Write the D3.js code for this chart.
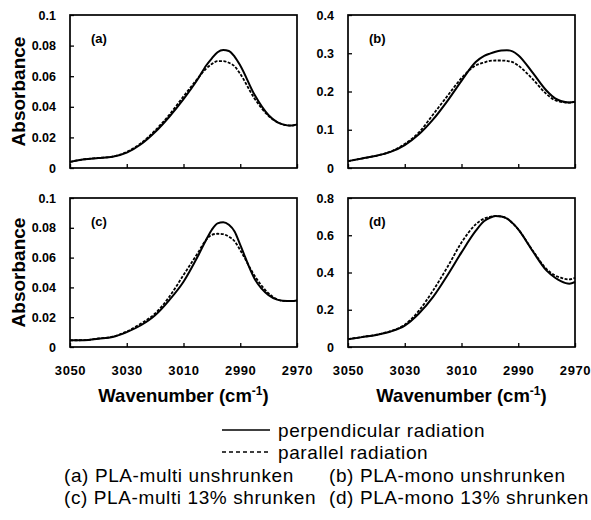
<!DOCTYPE html>
<html><head><meta charset="utf-8">
<script src="https://cdn.jsdelivr.net/npm/d3@7"></script>
<style>
body{margin:0;background:#fff;}
svg{display:block;}
</style></head>
<body>
<svg id="chart" width="591" height="520"></svg>
<script>
// ---- data ----
const wavenumbers = [3050,3045,3040,3035,3030,3025,3020,3015,3010,3005,3002,3000,2998,2996,2994,2992,2990,2985,2980,2977,2975,2972,2970];
const xTicks = [3050,3030,3010,2990,2970];

const perpA = [.0040,.0057,.0065,.0073,.0100,.0155,.0235,.0335,.0450,.0580,.0670,.0717,.0757,.0772,.0765,.0728,.0670,.0480,.0345,.0300,.0285,.0277,.0285];
const paraA = [.0040,.0057,.0066,.0075,.0105,.0162,.0245,.0348,.0468,.0585,.0650,.0680,.0698,.0698,.0688,.0665,.0615,.0455,.0340,.0300,.0285,.0277,.0285];
const perpB = [.018,.025,.032,.042,.060,.088,.127,.175,.228,.277,.293,.299,.304,.307,.308,.305,.295,.250,.202,.182,.175,.171,.173];
const paraB = [.018,.025,.032,.043,.063,.093,.140,.188,.235,.268,.276,.280,.281,.281,.280,.277,.268,.233,.193,.177,.173,.171,.173];
const perpC = [.0045,.0045,.0056,.0067,.0100,.0146,.0213,.0315,.0438,.0607,.0720,.0787,.0830,.0838,.0820,.0775,.0685,.0460,.0348,.0318,.0310,.0308,.0312];
const paraC = [.0045,.0046,.0057,.0069,.0104,.0157,.0225,.0337,.0483,.0630,.0720,.0753,.0760,.0757,.0740,.0710,.0650,.0480,.0360,.0320,.0310,.0308,.0312];
const perpD = [.042,.053,.065,.083,.115,.180,.269,.384,.508,.623,.676,.694,.703,.701,.690,.665,.632,.517,.410,.372,.354,.340,.349];
const paraD = [.042,.054,.066,.085,.120,.195,.304,.428,.561,.658,.690,.699,.703,.701,.690,.665,.632,.520,.418,.384,.372,.363,.372];

const yTicksA = [0,0.02,0.04,0.06,0.08,0.1];
const yTicksB = [0,0.1,0.2,0.3,0.4];
const yTicksC = [0,0.02,0.04,0.06,0.08,0.1];
const yTicksD = [0,0.2,0.4,0.6,0.8];
const yLabelsA = ["0","0.02","0.04","0.06","0.08","0.1"];
const yLabelsB = ["0","0.1","0.2","0.3","0.4"];
const yLabelsD = ["0","0.2","0.4","0.6","0.8"];

const panelLabels = ["(a)","(b)","(c)","(d)"];
const legendSeries = ["perpendicular radiation","parallel radiation"];
const caption = ["(a) PLA-multi unshrunken","(b) PLA-mono unshrunken","(c) PLA-multi 13% shrunken","(d) PLA-mono 13% shrunken"];

// ---- layout ----
const svg = d3.select("#chart");
const FONT = "'Liberation Sans', Arial, sans-serif";

const panels = [
  {x0:70, x1:297, y0:15, y1:168, ymax:0.1, ticks:yTicksA, labels:yLabelsA, perp:perpA, para:paraA, lab:panelLabels[0], ylab:true, xlab:false},
  {x0:348, x1:575, y0:15, y1:168, ymax:0.4, ticks:yTicksB, labels:yLabelsB, perp:perpB, para:paraB, lab:panelLabels[1], ylab:false, xlab:false},
  {x0:70, x1:297, y0:198, y1:347, ymax:0.1, ticks:yTicksC, labels:yLabelsA, perp:perpC, para:paraC, lab:panelLabels[2], ylab:true, xlab:true},
  {x0:348, x1:575, y0:198, y1:347, ymax:0.8, ticks:yTicksD, labels:yLabelsD, perp:perpD, para:paraD, lab:panelLabels[3], ylab:false, xlab:true}
];

panels.forEach(p => {
  const x = d3.scaleLinear().domain([3050,2970]).range([p.x0,p.x1]);
  const y = d3.scaleLinear().domain([0,p.ymax]).range([p.y1,p.y0]);
  const g = svg.append("g");

  // y axis (ticks inward)
  const ya = d3.axisLeft(y).tickValues(p.ticks).tickSizeInner(-4).tickSizeOuter(0)
      .tickPadding(14).tickFormat((d,i)=>p.labels[i]);
  const yg = g.append("g").attr("transform",`translate(${p.x0},0)`).call(ya);
  yg.select(".domain").remove();
  yg.selectAll("line").attr("stroke","#000").attr("stroke-width",1.3);
  yg.selectAll("text").attr("font-family",FONT).attr("font-weight","bold").attr("font-size","12.5px").attr("fill","#000");

  // x axis (ticks inward)
  const xa = d3.axisBottom(x).tickValues(xTicks).tickSizeInner(-4).tickSizeOuter(0)
      .tickPadding(19).tickFormat(d3.format("d"));
  const xg = g.append("g").attr("transform",`translate(0,${p.y1})`).call(xa);
  xg.select(".domain").remove();
  xg.selectAll("line").attr("stroke","#000").attr("stroke-width",1.3);
  xg.selectAll("text").attr("font-family",FONT).attr("font-weight","bold").attr("font-size","13px")
     .attr("letter-spacing","0.6px").attr("fill","#000");
  if(!p.xlab) xg.selectAll("text").remove();

  // frame
  g.append("rect").attr("x",p.x0).attr("y",p.y0).attr("width",p.x1-p.x0).attr("height",p.y1-p.y0)
    .attr("fill","none").attr("stroke","#000").attr("stroke-width",1.7);

  const line = d3.line().x((d,i)=>x(wavenumbers[i])).y(d=>y(d)).curve(d3.curveMonotoneX);
  g.append("path").datum(p.para).attr("d",line).attr("fill","none").attr("stroke","#000")
    .attr("stroke-width",1.8).attr("stroke-dasharray","3,1.5");
  g.append("path").datum(p.perp).attr("d",line).attr("fill","none").attr("stroke","#000")
    .attr("stroke-width",2);

  g.append("text").attr("x",p.x0+21).attr("y",p.y0+28).text(p.lab)
    .attr("font-family",FONT).attr("font-weight","bold").attr("font-size","13px");

  if(p.ylab){
    g.append("text").attr("transform",`translate(25,${(p.y0+p.y1)/2}) rotate(-90)`)
      .attr("text-anchor","middle").text("Absorbance")
      .attr("font-family",FONT).attr("font-weight","bold").attr("font-size","19px");
  }
  if(p.xlab){
    const t = g.append("text").attr("x",(p.x0+p.x1)/2).attr("y",p.y1+55).attr("text-anchor","middle")
      .attr("font-family",FONT).attr("font-weight","bold").attr("font-size","18.5px");
    t.append("tspan").text("Wavenumber (cm");
    t.append("tspan").attr("dy",-7).attr("font-size","12px").text("-1");
    t.append("tspan").attr("dy",7).text(")");
  }
});

// ---- legend ----
const lg = svg.append("g").attr("font-family",FONT).attr("font-size","19px").attr("fill","#000")
  .attr("letter-spacing","0.6px");
lg.append("line").attr("x1",222).attr("x2",270).attr("y1",430).attr("y2",430).attr("stroke","#000").attr("stroke-width",1.6);
lg.append("line").attr("x1",222).attr("x2",270).attr("y1",452).attr("y2",452).attr("stroke","#000").attr("stroke-width",1.6).attr("stroke-dasharray","4,3");
lg.append("text").attr("x",278).attr("y",437).text(legendSeries[0]);
lg.append("text").attr("x",278).attr("y",459).text(legendSeries[1]);
lg.append("text").attr("x",64).attr("y",482).text(caption[0]);
lg.append("text").attr("x",329).attr("y",482).text(caption[1]);
lg.append("text").attr("x",64).attr("y",504).text(caption[2]);
lg.append("text").attr("x",329).attr("y",504).text(caption[3]);
</script>
</body></html>
